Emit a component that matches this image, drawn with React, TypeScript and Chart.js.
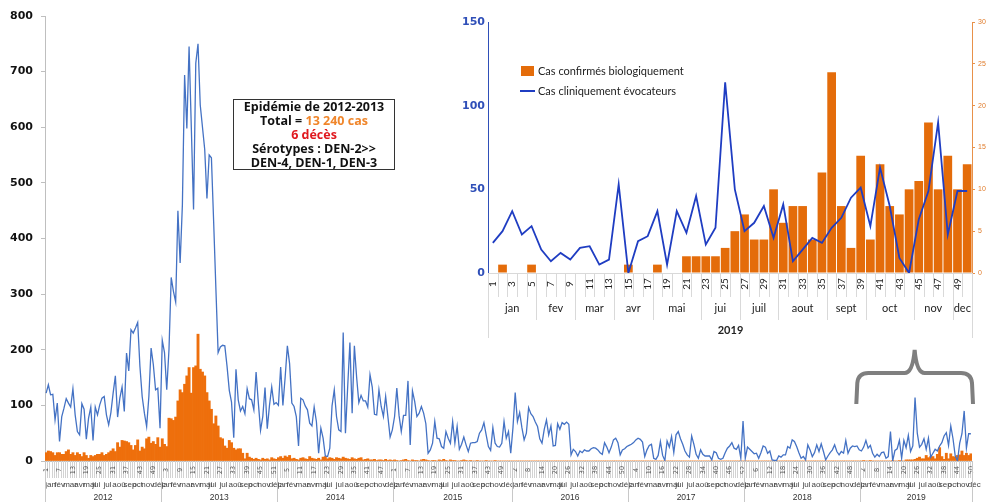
import React, { useEffect, useRef } from 'react';
import { Chart, registerables } from 'chart.js';
Chart.register(...registerables);

const years = ['2012', '2013', '2014', '2015', '2016', '2017', '2018', '2019'];
const yearWeeks = [52, 52, 52, 53, 52, 52, 52, 50];
const monthNames = ['jan', 'fév', 'mar', 'avr', 'mai', 'jui', 'jul', 'aoû', 'sep', 'oct', 'nov', 'déc'];
const monthStartWeek = [1, 5, 9, 14, 18, 22, 27, 31, 36, 40, 44, 49];

const insetMonths = ['jan', 'fev', 'mar', 'avr', 'mai', 'jui', 'juil', 'aout', 'sept', 'oct', 'nov', 'dec'];
const insetMonthStart = [1, 6, 10, 14, 18, 23, 27, 31, 36, 40, 45, 49];
const insetYear = '2019';

// Cas cliniquement évocateurs (weekly)
const clinical2012 = [122,137,119,120,74,104,35,80,95,112,104,97,130,83,53,47,103,93,39,77,97,37,97,83,101,113,116,83,65,87,122,153,79,113,133,89,194,162,236,230,239,249,170,116,86,62,116,203,173,128,131,59];
const clinical2013 = [217,195,128,200,330,305,286,450,356,460,694,598,745,600,452,715,750,640,600,560,472,550,545,430,310,195,205,208,207,170,127,106,42,165,110,90,98,85,130,112,110,92,160,105,55,80,132,58,100,133,102,105];
const clinical2014 = [100,169,100,150,207,175,104,98,80,27,113,110,99,92,68,63,97,71,14,59,41,9,8,23,99,128,80,56,53,231,50,133,213,86,207,151,105,118,108,108,97,155,133,84,83,128,98,80,116,80,43,56];
const clinical2015 = [80,131,82,53,82,82,144,29,126,107,80,86,98,86,67,14,20,32,71,41,40,26,23,53,41,32,71,32,62,21,30,43,29,17,32,33,33,35,50,56,69,47,26,19,60,32,26,25,32,71,41,53,14];
const clinical2016 = [60,123,71,87,60,38,50,96,85,80,70,62,40,32,57,74,47,63,27,28,67,57,69,66,70,66,11,21,17,9,18,15,20,18,18,22,24,23,20,15,12,33,25,15,25,38,41,33,11,20,22,26];
const clinical2017 = [28,30,33,38,41,39,34,8,20,28,30,5,3,10,35,10,1,36,25,44,15,47,53,40,30,18,11,7,45,30,12,5,20,12,9,9,9,2,17,15,5,3,5,15,23,27,33,23,21,28,5,72];
const clinical2018 = [5,25,21,17,13,14,5,15,27,25,14,18,2,1,1,9,7,11,11,26,23,38,35,26,15,5,8,2,29,20,8,15,29,17,31,17,2,9,15,20,29,17,11,17,14,37,14,23,27,26,27,20];
const clinical2019 = [18,25,37,23,28,14,7,12,8,15,16,5,8,53,0,19,22,37,5,37,24,46,17,27,114,50,25,30,40,21,41,7,14,21,18,27,33,45,51,28,63,40,9,0,32,49,90,23,49,49];

// Cas confirmés biologiquement (weekly)
const confirmed2012 = [15,18,17,15,10,15,15,12,12,17,20,12,15,10,15,12,8,15,10,5,10,8,10,12,12,15,10,12,15,18,22,17,33,25,37,36,35,33,28,20,28,38,18,25,22,40,43,32,35,30,42,25];
const confirmed2013 = [40,30,26,77,76,73,79,108,128,123,138,153,168,122,168,171,228,165,160,153,123,108,93,67,81,63,42,40,27,23,37,33,23,20,22,22,14,4,14,7,5,3,5,3,2,5,3,4,2,6,4,3];
const confirmed2014 = [6,8,5,9,7,10,4,5,3,2,5,6,4,3,8,5,4,3,5,2,7,8,4,6,5,3,6,5,4,7,5,4,3,6,4,3,5,6,2,3,4,2,2,3,1,2,2,1,3,1,2,1];
const confirmed2015 = [2,1,0,1,2,3,1,0,2,1,1,0,2,3,2,1,0,1,1,0,2,1,3,1,0,2,1,1,0,0,1,2,1,0,1,0,0,1,0,0,0,1,0,0,0,1,0,0,0,0,0,0,0];
const confirmed2016 = [0,0,0,0,0,0,0,0,0,0,0,0,0,0,0,0,0,0,0,0,0,0,0,0,0,0,0,0,0,0,0,0,0,0,0,0,0,0,0,0,0,0,0,0,0,0,0,0,0,0,0,0];
const confirmed2017 = [0,0,0,0,0,0,0,0,0,0,0,0,0,0,0,0,0,0,0,0,0,0,0,0,0,0,0,0,0,0,0,0,0,0,0,0,0,0,0,0,0,0,0,0,0,0,0,0,0,0,0,0];
const confirmed2018 = [0,0,0,0,0,0,0,0,0,0,0,0,0,0,0,0,0,0,0,0,0,0,0,0,0,0,0,0,0,0,0,0,0,0,0,0,0,0,0,0,0,0,0,0,0,0,0,0,0,0,0,0];
const confirmed2019 = [0,1,0,0,1,0,0,0,0,0,0,0,0,0,1,0,0,1,0,0,2,2,2,2,3,5,7,4,4,10,6,8,8,4,12,24,8,3,14,4,13,8,7,10,11,18,10,14,10,13];

const clinicalAll = [clinical2012, clinical2013, clinical2014, clinical2015, clinical2016, clinical2017, clinical2018, clinical2019].flat();
const confirmedAll = [confirmed2012, confirmed2013, confirmed2014, confirmed2015, confirmed2016, confirmed2017, confirmed2018, confirmed2019].flat();
const weekLabels: string[] = [];
yearWeeks.forEach((n) => { for (let w = 1; w <= n; w++) weekLabels.push(String(w)); });
const insetLabels = clinical2019.map((_, i) => String(i + 1));

const BLUE_MAIN = '#4472C4';
const ORANGE = '#EE6F0C';
const BLUE_INSET = '#1F3DC2';
const ORANGE_INSET = '#E46C0A';

const mainBand = {
  id: 'mainBand',
  afterDraw(chart: any) {
    const { ctx, chartArea } = chart;
    const x = chart.scales.x;
    const n = chart.data.labels.length;
    const half = (x.getPixelForValue(1) - x.getPixelForValue(0)) / 2;
    const b = chartArea.bottom;
    ctx.save();
    ctx.lineWidth = 1;
    ctx.strokeStyle = '#d2d2d2';
    ctx.beginPath();
    for (let i = 0; i <= n; i++) {
      const px = Math.round(x.getPixelForValue(i) - half) + 0.5;
      ctx.moveTo(px, b);
      ctx.lineTo(px, b + 17);
    }
    ctx.stroke();
    ctx.fillStyle = '#555';
    ctx.font = '6.5px "DejaVu Sans"';
    ctx.textAlign = 'center';
    ctx.textBaseline = 'middle';
    for (let i = 0; i < n; i += 6) {
      ctx.save();
      ctx.translate(x.getPixelForValue(i), b + 9);
      ctx.rotate(-Math.PI / 2);
      ctx.fillText(chart.data.labels[i], 0, 0);
      ctx.restore();
    }
    let s = 0;
    ctx.strokeStyle = '#c8c8c8';
    years.forEach((yr, yi) => {
      const nw = yearWeeks[yi];
      ctx.font = '8px "Liberation Sans"';
      ctx.fillStyle = '#444';
      ctx.textAlign = 'left';
      monthStartWeek.forEach((sw, mi) => {
        const l = x.getPixelForValue(s + sw - 1) - half;
        ctx.fillText(monthNames[mi], l + 0.3, b + 24);
      });
      const l = x.getPixelForValue(s) - half;
      const r = x.getPixelForValue(s + nw - 1) + half;
      ctx.font = '8.5px "Liberation Sans"';
      ctx.fillStyle = '#333';
      ctx.textAlign = 'center';
      ctx.fillText(yr, (l + r) / 2, b + 37);
      ctx.beginPath();
      ctx.moveTo(Math.round(l) + 0.5, b);
      ctx.lineTo(Math.round(l) + 0.5, b + 41);
      if (yi === years.length - 1) {
        ctx.moveTo(Math.round(r) + 0.5, b);
        ctx.lineTo(Math.round(r) + 0.5, b + 41);
      }
      ctx.stroke();
      s += nw;
    });
    // brace over 2019
    const start2019 = n - yearWeeks[yearWeeks.length - 1];
    const xL = x.getPixelForValue(start2019) - half - 4;
    const xR = x.getPixelForValue(n - 1) + half + 1;
    const xm = (xL + xR) / 2;
    const yEnd = 404, yBar = 373, yTip = 350;
    ctx.strokeStyle = '#7f7f7f';
    ctx.lineWidth = 4;
    ctx.beginPath();
    ctx.moveTo(xL, yEnd);
    ctx.lineTo(xL + 1, yBar + 10);
    ctx.quadraticCurveTo(xL + 2, yBar, xL + 12, yBar);
    ctx.lineTo(xm - 10, yBar);
    ctx.quadraticCurveTo(xm - 2, yBar, xm, yTip);
    ctx.quadraticCurveTo(xm + 2, yBar, xm + 10, yBar);
    ctx.lineTo(xR - 12, yBar);
    ctx.quadraticCurveTo(xR - 2, yBar, xR - 1, yBar + 10);
    ctx.lineTo(xR, yEnd);
    ctx.stroke();
    ctx.restore();
  },
};

const insetBand = {
  id: 'insetBand',
  afterDraw(chart: any) {
    const { ctx, chartArea } = chart;
    const x = chart.scales.x;
    const n = chart.data.labels.length;
    const half = (x.getPixelForValue(1) - x.getPixelForValue(0)) / 2;
    const b = chartArea.bottom;
    ctx.save();
    ctx.lineWidth = 1;
    ctx.strokeStyle = '#d9d9d9';
    ctx.beginPath();
    for (let i = 0; i <= n; i++) {
      const px = Math.round(x.getPixelForValue(i) - half) + 0.5;
      ctx.moveTo(px, b);
      ctx.lineTo(px, b + 24);
    }
    insetMonthStart.forEach((sw) => {
      const px = Math.round(x.getPixelForValue(sw - 1) - half) + 0.5;
      ctx.moveTo(px, b);
      ctx.lineTo(px, b + 47);
    });
    const lEnd = Math.round(x.getPixelForValue(0) - half) + 0.5;
    const rEnd = Math.round(x.getPixelForValue(n - 1) + half) + 0.5;
    ctx.moveTo(lEnd, b); ctx.lineTo(lEnd, b + 65);
    ctx.moveTo(rEnd, b); ctx.lineTo(rEnd, b + 65);
    ctx.stroke();
    ctx.fillStyle = '#222';
    ctx.font = '10px Lato';
    ctx.textAlign = 'center';
    ctx.textBaseline = 'middle';
    for (let i = 0; i < n; i += 2) {
      ctx.save();
      ctx.translate(x.getPixelForValue(i), b + 11);
      ctx.rotate(-Math.PI / 2);
      ctx.fillText(chart.data.labels[i], 0, 0);
      ctx.restore();
    }
    ctx.font = '11px Lato';
    insetMonths.forEach((m, mi) => {
      const sw = insetMonthStart[mi];
      const ew = mi < 11 ? insetMonthStart[mi + 1] - 1 : n;
      const l = x.getPixelForValue(sw - 1) - half;
      const r = x.getPixelForValue(ew - 1) + half;
      ctx.fillText(m, (l + r) / 2, b + 35);
    });
    ctx.font = 'bold 11px Lato';
    ctx.fillText(insetYear, (lEnd + rEnd) / 2, b + 57);
    ctx.restore();
  },
};

export default function App() {
  const mainRef = useRef<HTMLCanvasElement>(null);
  const insetRef = useRef<HTMLCanvasElement>(null);

  useEffect(() => {
    const main = new Chart(mainRef.current as HTMLCanvasElement, {
      type: 'bar',
      data: {
        labels: weekLabels,
        datasets: [
          {
            type: 'line',
            label: 'Cas cliniquement évocateurs',
            data: clinicalAll,
            borderColor: BLUE_MAIN,
            borderWidth: 1.3,
            pointRadius: 0,
            tension: 0,
            order: 0,
          } as any,
          {
            type: 'bar',
            label: 'Cas confirmés biologiquement',
            data: confirmedAll,
            backgroundColor: ORANGE,
            barPercentage: 1,
            categoryPercentage: 1,
            borderWidth: 0,
            order: 1,
          } as any,
        ],
      },
      options: {
        responsive: false,
        animation: false,
        devicePixelRatio: 1,
        layout: { padding: { top: 16, right: 23, left: 0, bottom: 0 } },
        plugins: { legend: { display: false }, tooltip: { enabled: false } },
        scales: {
          x: {
            ticks: { display: false },
            grid: { display: false },
            border: { color: '#bfbfbf' },
            afterFit: (s: any) => { s.height = 41; },
          },
          y: {
            min: 0,
            max: 800,
            ticks: { stepSize: 100, color: '#111', padding: 8, font: { family: 'DejaVu Sans', weight: 'bold', size: 11 } },
            grid: { drawOnChartArea: false, color: '#bfbfbf', tickLength: 4 },
            border: { color: '#bfbfbf' },
            afterFit: (s: any) => { s.width = 45; },
          },
        },
      } as any,
      plugins: [mainBand],
    });

    const inset = new Chart(insetRef.current as HTMLCanvasElement, {
      type: 'bar',
      data: {
        labels: insetLabels,
        datasets: [
          {
            type: 'line',
            label: 'Cas cliniquement évocateurs',
            data: clinical2019,
            borderColor: BLUE_INSET,
            borderWidth: 1.8,
            pointRadius: 0,
            tension: 0,
            yAxisID: 'y',
            order: 0,
          } as any,
          {
            type: 'bar',
            label: 'Cas confirmés biologiquement',
            data: confirmed2019,
            backgroundColor: ORANGE_INSET,
            barPercentage: 0.9,
            categoryPercentage: 1,
            yAxisID: 'y1',
            order: 1,
          } as any,
        ],
      },
      options: {
        responsive: false,
        animation: false,
        devicePixelRatio: 1,
        layout: { padding: { top: 22, right: 0, left: 0, bottom: 0 } },
        plugins: { legend: { display: false }, tooltip: { enabled: false } },
        scales: {
          x: {
            ticks: { display: false },
            grid: { display: false },
            border: { color: '#d9d9d9' },
            afterFit: (s: any) => { s.height = 72; },
          },
          y: {
            position: 'left',
            min: 0,
            max: 150,
            ticks: { stepSize: 50, color: '#2F4FB8', padding: 3, font: { family: 'DejaVu Sans', weight: 'bold', size: 11 } },
            grid: { display: false, drawTicks: false },
            border: { color: '#2F4FB8' },
            afterFit: (s: any) => { s.width = 38; },
          },
          y1: {
            position: 'right',
            min: 0,
            max: 30,
            ticks: { stepSize: 5, color: '#E07B2A', padding: 3, font: { family: 'Liberation Sans', size: 7 } },
            grid: { drawOnChartArea: false, color: '#E8914A', tickLength: 3 },
            border: { color: '#E8914A' },
            afterFit: (s: any) => { s.width = 23; },
          },
        },
      } as any,
      plugins: [insetBand],
    });

    return () => {
      main.destroy();
      inset.destroy();
    };
  }, []);

  return (
    <div style={{ position: 'absolute', left: 0, top: 0, width: 995, height: 502, background: '#fff', overflow: 'hidden' }}>
      <canvas ref={mainRef} width={995} height={502} style={{ position: 'absolute', left: 0, top: 0 }} />
      <canvas ref={insetRef} width={545} height={345} style={{ position: 'absolute', left: 450, top: 0 }} />
      <div style={{ position: 'absolute', left: 521, top: 66, width: 13, height: 10, background: ORANGE_INSET }} />
      <div style={{ position: 'absolute', left: 538, top: 63, font: '11px Lato', color: '#222', lineHeight: '16px', whiteSpace: 'nowrap' }}>
        Cas confirmés biologiquement
      </div>
      <div style={{ position: 'absolute', left: 520, top: 90, width: 15, height: 2, background: BLUE_INSET }} />
      <div style={{ position: 'absolute', left: 538, top: 83, font: '11px Lato', color: '#222', lineHeight: '16px', whiteSpace: 'nowrap' }}>
        Cas cliniquement évocateurs
      </div>
      <div
        style={{
          position: 'absolute', left: 233, top: 99, width: 162, height: 71, boxSizing: 'border-box',
          border: '1.5px solid #333', background: '#fff', textAlign: 'center',
          font: 'bold 12.5px "Open Sans"', lineHeight: '14px', color: '#111', paddingTop: 0, whiteSpace: 'nowrap',
        }}
      >
        <div>Epidémie de 2012-2013</div>
        <div>Total = <span style={{ color: '#F0862B' }}>13 240 cas</span></div>
        <div style={{ color: '#E0191F' }}>6 décès</div>
        <div>Sérotypes : DEN-2&gt;&gt;</div>
        <div>DEN-4, DEN-1, DEN-3</div>
      </div>
    </div>
  );
}
